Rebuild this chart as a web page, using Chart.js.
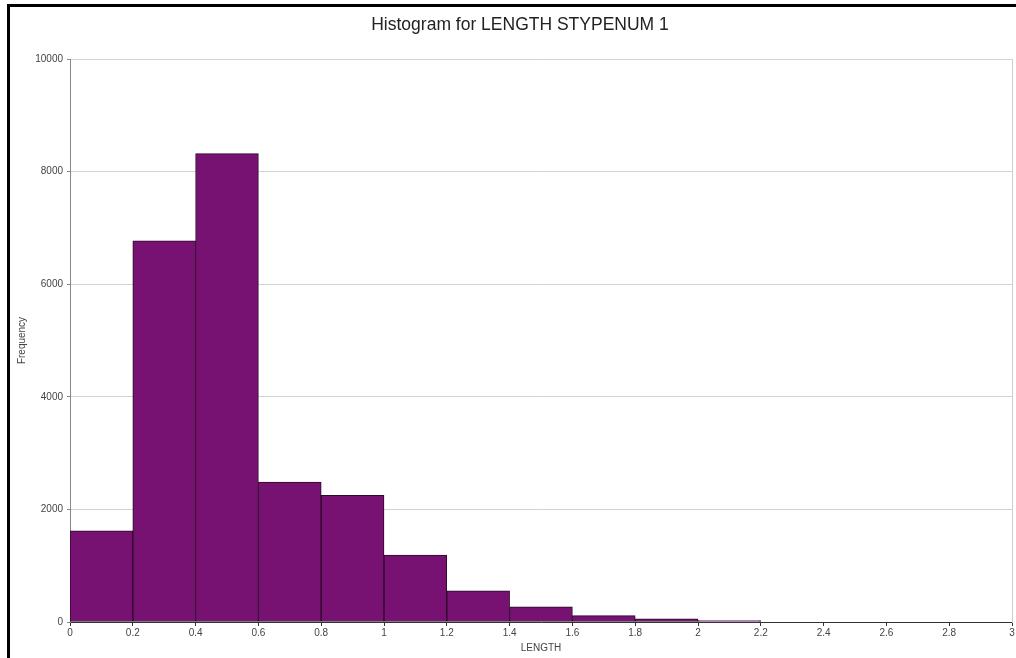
<!DOCTYPE html>
<html>
<head>
<meta charset="utf-8">
<title>Histogram for LENGTH STYPENUM 1</title>
<script src="https://cdn.jsdelivr.net/npm/chart.js@4/dist/chart.umd.min.js"></script>
<style>
    html, body { margin: 0; padding: 0; background: #fff; overflow: hidden; }
    #frame {
        position: absolute;
        left: 7px;
        top: 4px;
        border-left: 3px solid #000;
        border-top: 3px solid #000;
    }
    #histChart { display: block; }
</style>
</head>
<body>
<div id="frame">
    <canvas id="histChart" width="1020" height="651"></canvas>
</div>
<script>
// Bin lower edges (LENGTH) and counts per bin
const binStarts = [0, 0.2, 0.4, 0.6, 0.8, 1.0, 1.2, 1.4, 1.6, 1.8, 2.0];
const frequencies = [1620, 6770, 8320, 2485, 2250, 1190, 555, 268, 112, 58, 25];
const binWidth = 0.2;

// Axis ranges
const xRange = { min: 0, max: 3, step: 0.2 };
const yRange = { min: 0, max: 10000, step: 2000 };

document.addEventListener('DOMContentLoaded', function() {
    Chart.defaults.font.family = '"Liberation Sans", Arial, sans-serif';
    Chart.defaults.font.size = 10;
    Chart.defaults.color = '#444';

    const ctx = document.getElementById('histChart').getContext('2d');

    const bars = binStarts.map((start, i) => ({ x: start + binWidth / 2, y: frequencies[i] }));

    new Chart(ctx, {
        type: 'bar',
        data: {
            datasets: [{
                label: 'Frequency',
                data: bars,
                backgroundColor: '#771172',
                borderColor: '#2b0a2a',
                borderWidth: 1,
                borderSkipped: false,
                barPercentage: 1,
                categoryPercentage: 1
            }]
        },
        options: {
            responsive: false,
            animation: false,
            layout: {
                padding: 0
            },
            plugins: {
                legend: { display: false },
                tooltip: { enabled: false },
                title: {
                    display: true,
                    text: 'Histogram for LENGTH STYPENUM 1',
                    color: '#222',
                    font: { size: 17.5, weight: 'normal' },
                    padding: { top: 8, bottom: 23 }
                }
            },
            scales: {
                x: {
                    type: 'linear',
                    min: xRange.min,
                    max: xRange.max,
                    offset: false,
                    grid: {
                        offset: false,
                        drawOnChartArea: false,
                        drawTicks: true,
                        tickLength: 4,
                        color: '#333'
                    },
                    border: { color: '#333', width: 1 },
                    ticks: {
                        stepSize: xRange.step,
                        autoSkip: false,
                        maxRotation: 0,
                        padding: 1,
                        color: '#444',
                        callback: value => String(Math.round(value * 10) / 10)
                    },
                    title: {
                        display: true,
                        text: 'LENGTH',
                        color: '#444',
                        padding: 4
                    },
                    afterFit: scale => { scale.height = 36; }
                },
                y: {
                    min: yRange.min,
                    max: yRange.max,
                    grid: {
                        color: '#d2d2d2',
                        tickColor: '#888',
                        tickLength: 3
                    },
                    border: { color: '#888', width: 1 },
                    ticks: {
                        stepSize: yRange.step,
                        padding: 4,
                        color: '#444',
                        callback: value => String(value)
                    },
                    title: {
                        display: true,
                        text: 'Frequency',
                        color: '#444',
                        padding: 6
                    },
                    afterFit: scale => { scale.width = 60; }
                },
                // right-hand frame of the plot area, also reserves the right margin
                y2: {
                    position: 'right',
                    min: yRange.min,
                    max: yRange.max,
                    grid: { drawOnChartArea: false, drawTicks: false },
                    ticks: { display: false },
                    border: { color: '#cfcfcf', width: 1 },
                    afterFit: scale => { scale.width = 18; }
                }
            }
        }
    });
});
</script>
</body>
</html>
